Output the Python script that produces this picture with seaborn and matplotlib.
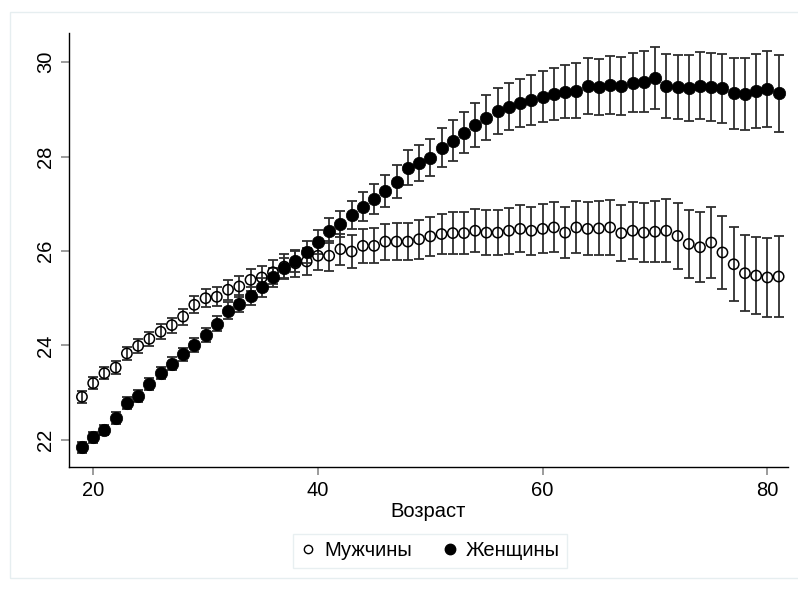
import numpy as np
import pandas as pd
import matplotlib
matplotlib.use("Agg")
import matplotlib.pyplot as plt
from matplotlib.lines import Line2D
from matplotlib.patches import Rectangle
import seaborn as sns

ages = list(range(19, 82))

men_mean = [22.91, 23.20, 23.41, 23.53, 23.83, 23.99, 24.14, 24.29, 24.43, 24.61,
            24.86, 25.00, 25.03, 25.18, 25.25, 25.39, 25.44, 25.55, 25.67, 25.74,
            25.78, 25.90, 25.90, 26.04, 25.99, 26.11, 26.11, 26.20, 26.20, 26.20,
            26.25, 26.31, 26.36, 26.38, 26.38, 26.43, 26.39, 26.39, 26.43, 26.47,
            26.43, 26.47, 26.50, 26.39, 26.50, 26.47, 26.48, 26.50, 26.38, 26.43,
            26.39, 26.41, 26.43, 26.32, 26.15, 26.08, 26.18, 25.97, 25.72, 25.53,
            25.48, 25.44, 25.46]
men_err = [0.13, 0.13, 0.13, 0.14, 0.14, 0.15, 0.15, 0.16, 0.16, 0.17,
           0.18, 0.19, 0.20, 0.21, 0.22, 0.23, 0.24, 0.25, 0.26, 0.28,
           0.29, 0.31, 0.32, 0.33, 0.35, 0.36, 0.37, 0.38, 0.39, 0.40,
           0.41, 0.42, 0.43, 0.44, 0.45, 0.46, 0.47, 0.48, 0.49, 0.50,
           0.51, 0.52, 0.53, 0.54, 0.55, 0.56, 0.57, 0.58, 0.59, 0.60,
           0.62, 0.65, 0.67, 0.70, 0.72, 0.74, 0.76, 0.77, 0.78, 0.80,
           0.82, 0.83, 0.85]

women_mean = [21.84, 22.05, 22.21, 22.46, 22.78, 22.93, 23.18, 23.41, 23.61, 23.81,
              24.00, 24.22, 24.46, 24.74, 24.88, 25.05, 25.23, 25.44, 25.64, 25.78,
              25.98, 26.19, 26.43, 26.57, 26.76, 26.94, 27.10, 27.28, 27.47, 27.77,
              27.86, 27.98, 28.19, 28.34, 28.51, 28.67, 28.83, 28.97, 29.06, 29.13,
              29.20, 29.27, 29.33, 29.38, 29.40, 29.50, 29.48, 29.52, 29.50, 29.57,
              29.59, 29.67, 29.50, 29.48, 29.45, 29.50, 29.47, 29.45, 29.34, 29.33,
              29.39, 29.43, 29.34]
women_err = [0.11, 0.11, 0.11, 0.12, 0.12, 0.12, 0.13, 0.13, 0.14, 0.14,
             0.15, 0.15, 0.16, 0.17, 0.18, 0.19, 0.20, 0.21, 0.22, 0.23,
             0.24, 0.25, 0.27, 0.28, 0.30, 0.31, 0.32, 0.34, 0.35, 0.37,
             0.38, 0.40, 0.41, 0.43, 0.44, 0.46, 0.47, 0.49, 0.50, 0.51,
             0.53, 0.54, 0.55, 0.56, 0.58, 0.59, 0.60, 0.61, 0.62, 0.63,
             0.64, 0.66, 0.67, 0.68, 0.70, 0.71, 0.72, 0.73, 0.76, 0.77,
             0.78, 0.80, 0.81]

groups = ["Мужчины", "Женщины"]

df = pd.concat([
    pd.DataFrame({"age": ages, "mean": men_mean, "err": men_err, "sex": groups[0]}),
    pd.DataFrame({"age": ages, "mean": women_mean, "err": women_err, "sex": groups[1]}),
], ignore_index=True)

sns.set_style("ticks")
plt.rcParams["font.family"] = ["Liberation Sans", "DejaVu Sans"]
plt.rcParams["text.color"] = "black"
plt.rcParams["axes.labelcolor"] = "black"
plt.rcParams["xtick.color"] = "black"
plt.rcParams["ytick.color"] = "black"

fig = plt.figure(figsize=(7.98, 5.9), dpi=100)
ax = fig.add_axes([0.0865, 0.209, 0.9005, 0.735])

# faint outer frame of the graph region
fig.patches.append(Rectangle((10 / 798, 12 / 590), 1.0, 1 - 24 / 590,
                             transform=fig.transFigure, fill=False,
                             edgecolor="#e6eef0", linewidth=1.0, zorder=0))

for sex in groups:
    d = df[df["sex"] == sex]
    ax.errorbar(d["age"], d["mean"], yerr=d["err"], fmt="none",
                ecolor="#2e2e2e", elinewidth=1.3, capsize=3.6, capthick=1.3, zorder=2)

d_m = df[df["sex"] == groups[0]]
d_w = df[df["sex"] == groups[1]]
sns.scatterplot(data=d_m, x="age", y="mean", ax=ax, marker="o", s=55,
                facecolor="none", edgecolor="black", linewidth=1.1, zorder=3,
                legend=False)
sns.scatterplot(data=d_w, x="age", y="mean", ax=ax, marker="o", s=80,
                color="black", edgecolor="black", linewidth=0.5, zorder=4,
                legend=False)

ax.set_xlim(17.85, 81.8)
ax.set_ylim(21.43, 30.62)
ax.set_xticks([20, 40, 60, 80])
ax.set_yticks([22, 24, 26, 28, 30])
ax.tick_params(axis="both", which="major", length=6, width=1.2, color="#8a8a8a",
               labelcolor="black", labelsize=14.5, pad=4)
for lbl in ax.get_yticklabels():
    lbl.set_rotation(90)
    lbl.set_va("center")

sns.despine(ax=ax)
for sp in ["left", "bottom"]:
    ax.spines[sp].set_color("black")
    ax.spines[sp].set_linewidth(1.0)

ax.set_xlabel("Возраст", fontsize=14.5, labelpad=2, color="black")
ax.set_ylabel("")

handles = [
    Line2D([], [], marker="o", linestyle="none", markerfacecolor="white",
           markeredgecolor="black", markeredgewidth=1.0, markersize=6),
    Line2D([], [], marker="o", linestyle="none", markerfacecolor="black",
           markeredgecolor="black", markersize=7.5),
]
leg = fig.legend(handles, groups, loc="center", bbox_to_anchor=(430 / 798, 1 - 551 / 590),
                 ncol=2, fontsize=14.5, frameon=True, fancybox=False,
                 handletextpad=0.4, columnspacing=1.5, handlelength=0.8,
                 borderpad=0.35)
leg.get_frame().set_edgecolor("#e3ecee")
leg.get_frame().set_linewidth(1.0)
for t in leg.get_texts():
    t.set_color("black")

fig.savefig("out.png", dpi=100)
